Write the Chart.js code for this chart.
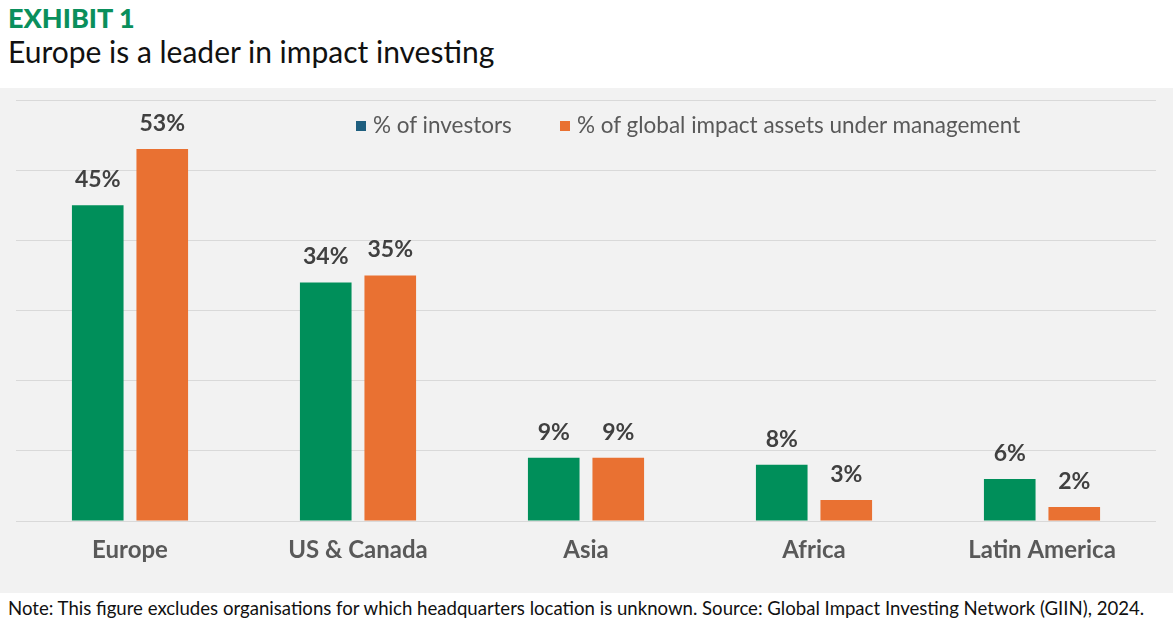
<!DOCTYPE html>
<html>
<head>
<meta charset="utf-8">
<script src="https://cdn.jsdelivr.net/npm/chart.js@4.4.1/dist/chart.umd.min.js"></script>
<style>
  html, body { margin:0; padding:0; background:#ffffff; }
  body { width:1173px; height:628px; position:relative; overflow:hidden; font-family: Lato, "Noto Sans", sans-serif; }
  #exhibit { position:absolute; left:8px; top:1px; font-size:27px; font-weight:900; color:#0a8f5c; }
  #title { position:absolute; left:8px; top:33px; font-size:30px; color:#111; }
  #panel { position:absolute; left:0; top:88px; width:1173px; height:505px; background:#f2f2f2; }
  #wrap { position:absolute; left:0; top:88px; width:1173px; height:505px; }
  #legend { position:absolute; top:111px; left:0; width:1173px; height:26px; font-size:22.5px; color:#595959; }
  .lg { position:absolute; top:0; white-space:nowrap; }
  .sw { display:inline-block; width:10px; height:10px; margin-right:7px; vertical-align:middle; position:relative; top:-1px; }
  #note { position:absolute; left:8px; top:597px; font-size:18.6px; color:#111; white-space:nowrap; }
</style>
</head>
<body>
<div id="exhibit">EXHIBIT 1</div>
<div id="title">Europe is a leader in impact investing</div>
<div id="panel"></div>
<div id="wrap"><canvas id="c" width="1173" height="505"></canvas></div>
<div id="legend"></div>
<div id="note">Note: This figure excludes organisations for which headquarters location is unknown. Source: Global Impact Investing Network (GIIN), 2024.</div>
<script>
const categories = ["Europe", "US & Canada", "Asia", "Africa", "Latin America"];
const investorsPct = [45, 34, 9, 8, 6];
const assetsPct = [53, 35, 9, 3, 2];
const seriesNames = ["% of investors", "% of global impact assets under management"];
const yTicks = [0, 10, 20, 30, 40, 50, 60];

const barColors = ["#008f5a", "#e97132"];
const legendColors = ["#1f5f7f", "#e97132"];

// HTML legend
const lg = document.getElementById('legend');
const legendX = [356, 560];
seriesNames.forEach((n, i) => {
  const d = document.createElement('div');
  d.className = 'lg';
  d.style.left = legendX[i] + 'px';
  d.innerHTML = '<span class="sw" style="background:' + legendColors[i] + '"></span>' + n;
  lg.appendChild(d);
});

const labelPlugin = {
  id: 'valueLabels',
  afterDatasetsDraw(chart) {
    const ctx = chart.ctx;
    ctx.save();
    ctx.font = 'bold 23px Lato, "Noto Sans", sans-serif';
    ctx.fillStyle = '#404040';
    ctx.textAlign = 'center';
    ctx.textBaseline = 'alphabetic';
    chart.data.datasets.forEach((ds, di) => {
      const meta = chart.getDatasetMeta(di);
      meta.data.forEach((bar, i) => {
        ctx.fillText(ds.data[i] + '%', bar.x, bar.y - 18);
      });
    });
    ctx.restore();
  }
};

new Chart(document.getElementById('c'), {
  type: 'bar',
  data: {
    labels: categories,
    datasets: [
      { label: seriesNames[0], data: investorsPct, backgroundColor: barColors[0] },
      { label: seriesNames[1], data: assetsPct, backgroundColor: barColors[1] }
    ]
  },
  options: {
    responsive: false,
    animation: false,
    devicePixelRatio: 1,
    layout: { padding: { top: 12, left: 16, right: 17, bottom: 0 } },
    datasets: { bar: { barPercentage: 0.8, categoryPercentage: 0.566 } },
    plugins: { legend: { display: false }, tooltip: { enabled: false } },
    scales: {
      x: {
        grid: { display: false },
        border: { display: false },
        ticks: { color: '#595959', font: { family: 'Lato, "Noto Sans", sans-serif', size: 24, weight: 'bold' }, padding: 7, maxRotation: 0 },
        afterFit(s) { s.height = 72; }
      },
      y: {
        min: 0, max: 60,
        afterBuildTicks(s) { s.ticks = yTicks.map(v => ({ value: v })); },
        ticks: { display: false },
        border: { display: false },
        grid: { color: '#d9d9d9', lineWidth: 1, drawTicks: false },
        afterFit(s) { s.width = 0; }
      }
    }
  },
  plugins: [labelPlugin]
});
</script>
</body>
</html>
